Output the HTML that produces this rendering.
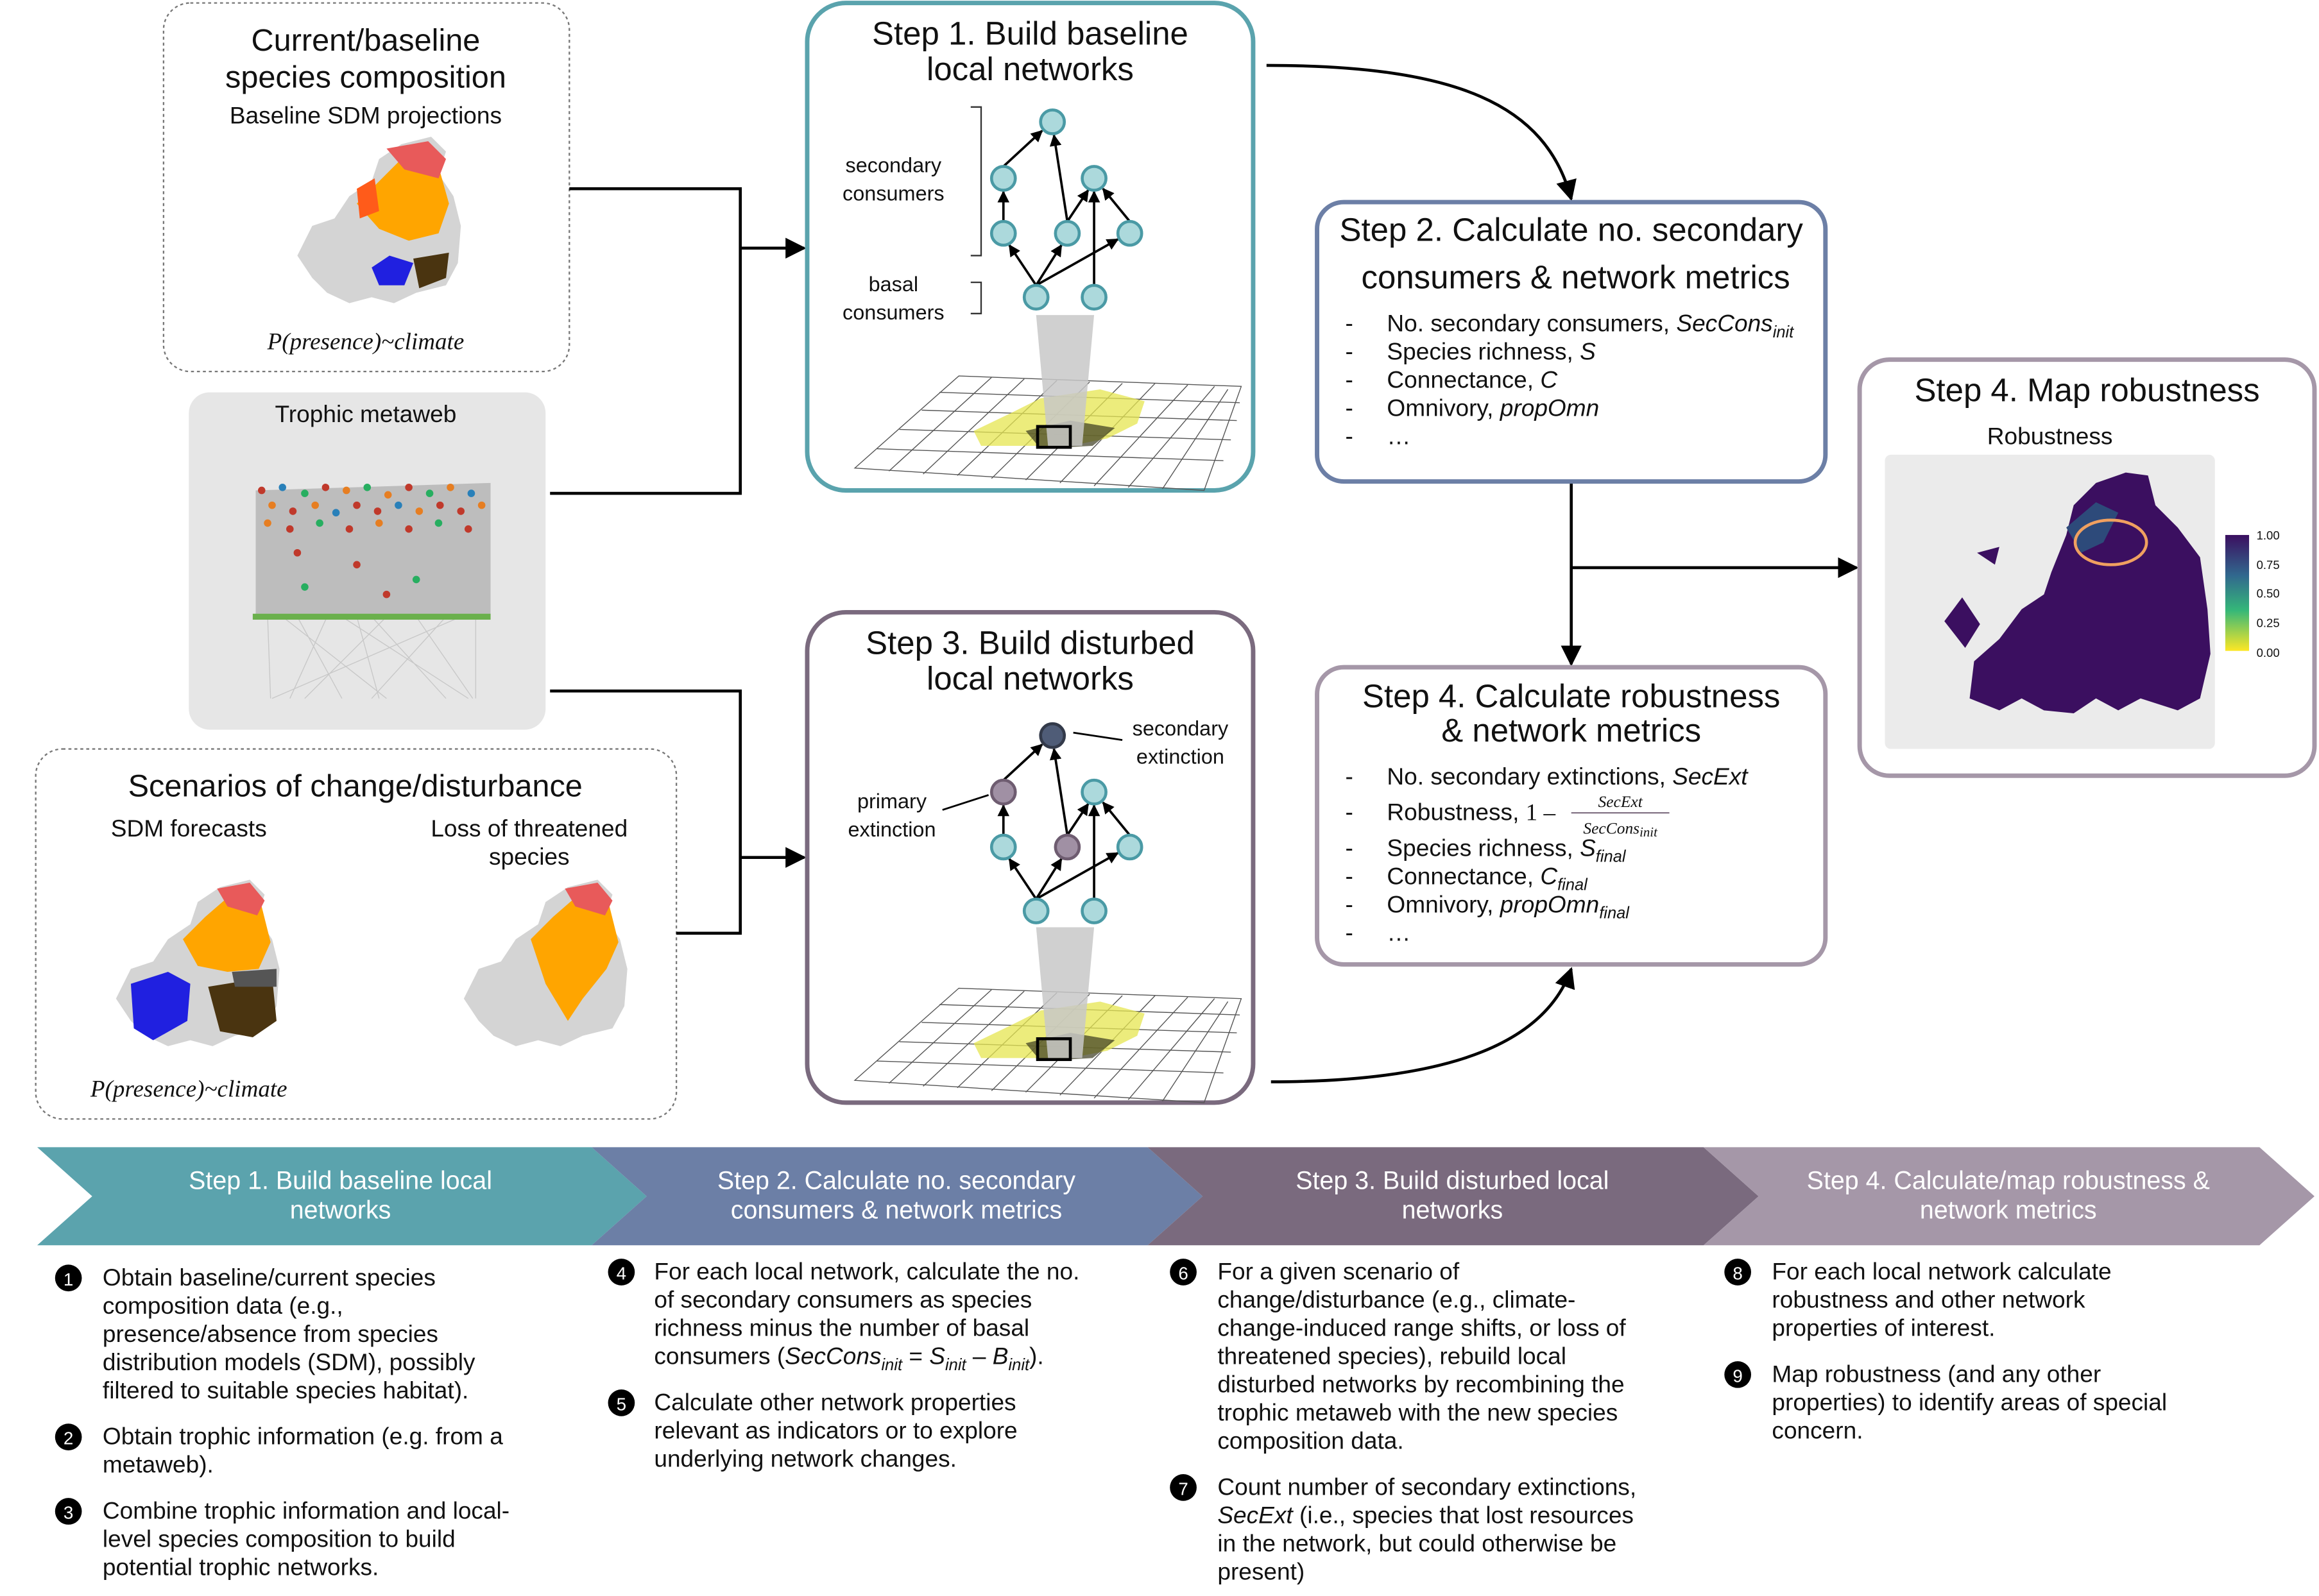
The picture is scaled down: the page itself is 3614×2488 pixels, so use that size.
<!DOCTYPE html>
<html><head><meta charset="utf-8"><style>
html,body{margin:0;padding:0;background:#fff}
svg{display:block}
text{font-family:"Liberation Sans",sans-serif;fill:#111}
text.w,.w text{fill:#fff}
.it{font-style:italic}
.ser{font-family:"Liberation Serif",serif;font-style:italic}
</style></head><body>
<svg width="3614" height="2488" viewBox="0 0 1560 1074" xmlns="http://www.w3.org/2000/svg">
<defs>
<marker id="ah" viewBox="0 0 10 10" refX="9" refY="5" markerWidth="7" markerHeight="7" orient="auto-start-reverse"><path d="M0,0L10,5L0,10z" fill="#000"/></marker>
<marker id="as" viewBox="0 0 10 10" refX="9" refY="5" markerWidth="5" markerHeight="5" orient="auto"><path d="M0,0L10,5L0,10z" fill="#000"/></marker>
<linearGradient id="lg" x1="0" y1="0" x2="0" y2="1"><stop offset="0" stop-color="#3b0f60"/><stop offset="0.35" stop-color="#31688e"/><stop offset="0.65" stop-color="#35b779"/><stop offset="1" stop-color="#fde725"/></linearGradient>
<g id="grid" stroke="#555" stroke-width="0.6" fill="none">
<path d="M575,315 L645,253 L835,260 L810,330 Z"/>
<path d="M590,302 L823,310 M605,289 L828,296 M620,276 L832,283 M632,264 L834,271"/>
<path d="M598,317 L667,254 M621,319 L689,255 M644,320 L711,256 M667,322 L733,257 M690,323 L755,258 M713,325 L777,258 M736,327 L799,259 M759,328 L817,260 M782,329 L826,262"/>
</g>
<g id="eu">
<path d="M0,80 L10,60 L25,55 L35,40 L50,30 L55,15 L70,5 L90,0 L100,10 L95,25 L105,40 L110,60 L108,85 L100,100 L80,105 L65,112 L50,108 L35,112 L20,105 L10,95 Z" fill="#d4d4d4"/>
</g>
</defs>

<!-- Box: Current baseline -->
<rect x="110" y="2" width="273" height="248" rx="18" fill="#fff" stroke="#777" stroke-width="1" stroke-dasharray="2,2"/>
<text x="246" y="34" font-size="21" text-anchor="middle">Current/baseline</text>
<text x="246" y="59" font-size="21" text-anchor="middle">species composition</text>
<text x="246" y="83" font-size="16" text-anchor="middle">Baseline SDM projections</text>
<g transform="translate(200,92)">
<use href="#eu"/>
<path d="M40,45 L55,30 L70,15 L95,20 L102,45 L95,65 L75,70 L55,62 Z" fill="#ffa500"/>
<path d="M60,8 L88,3 L100,15 L95,28 L72,22 Z" fill="#e85a5a"/>
<path d="M40,35 L52,28 L55,50 L42,55 Z" fill="#ff5b1a"/>
<path d="M50,88 L62,80 L78,85 L72,100 L55,100 Z" fill="#2020e0"/>
<path d="M78,82 L102,78 L100,95 L82,102 Z" fill="#4a3410"/>
</g>
<text x="246" y="235" font-size="16" text-anchor="middle" class="ser">P(presence)~climate</text>

<!-- Trophic metaweb -->
<rect x="127" y="264" width="240" height="227" rx="14" fill="#e6e6e6"/>
<text x="246" y="284" font-size="16" text-anchor="middle">Trophic metaweb</text>
<path d="M172,330 L330,325 L330,415 L172,415 Z" fill="#bdbdbd"/>
<g stroke="#c8c8c8" stroke-width="0.6">
<path d="M180,415 L182,470 M200,415 L230,470 M220,415 L195,470 M240,415 L255,470 M260,415 L205,470 M280,415 L318,470 M300,415 L250,470 M320,415 L320,470 M190,415 L260,470 M310,415 L183,470 M250,415 L300,470 M230,415 L315,470"/>
</g>
<g fill="#c0392b">
<circle cx="176" cy="330" r="2.5"/><circle cx="183" cy="340" r="2.5" fill="#e67e22"/><circle cx="190" cy="328" r="2.5" fill="#2980b9"/><circle cx="197" cy="344" r="2.5"/><circle cx="205" cy="332" r="2.5" fill="#27ae60"/><circle cx="212" cy="340" r="2.5" fill="#e67e22"/><circle cx="219" cy="328" r="2.5"/><circle cx="226" cy="345" r="2.5" fill="#2980b9"/><circle cx="233" cy="330" r="2.5" fill="#e67e22"/><circle cx="240" cy="340" r="2.5"/><circle cx="247" cy="328" r="2.5" fill="#27ae60"/><circle cx="254" cy="344" r="2.5"/><circle cx="261" cy="333" r="2.5" fill="#e67e22"/><circle cx="268" cy="340" r="2.5" fill="#2980b9"/><circle cx="275" cy="328" r="2.5"/><circle cx="282" cy="344" r="2.5" fill="#e67e22"/><circle cx="289" cy="332" r="2.5" fill="#27ae60"/><circle cx="296" cy="340" r="2.5"/><circle cx="303" cy="328" r="2.5" fill="#e67e22"/><circle cx="310" cy="344" r="2.5"/><circle cx="317" cy="332" r="2.5" fill="#2980b9"/><circle cx="324" cy="340" r="2.5" fill="#e67e22"/>
<circle cx="180" cy="352" r="2.5" fill="#e67e22"/><circle cx="195" cy="356" r="2.5"/><circle cx="215" cy="352" r="2.5" fill="#27ae60"/><circle cx="235" cy="356" r="2.5"/><circle cx="255" cy="352" r="2.5" fill="#e67e22"/><circle cx="275" cy="356" r="2.5"/><circle cx="295" cy="352" r="2.5" fill="#27ae60"/><circle cx="315" cy="356" r="2.5"/>
<circle cx="200" cy="372" r="2.5"/><circle cx="240" cy="380" r="2.5"/><circle cx="280" cy="390" r="2.5" fill="#27ae60"/><circle cx="205" cy="395" r="2.5" fill="#27ae60"/><circle cx="260" cy="400" r="2.5"/>
</g>
<rect x="170" y="413" width="160" height="4" fill="#6ab04c"/>

<!-- Scenarios box -->
<rect x="24" y="504" width="431" height="249" rx="18" fill="#fff" stroke="#777" stroke-width="1" stroke-dasharray="2,2"/>
<text x="239" y="536" font-size="21" text-anchor="middle">Scenarios of change/disturbance</text>
<text x="127" y="563" font-size="16" text-anchor="middle">SDM forecasts</text>
<text x="356" y="563" font-size="16" text-anchor="middle">Loss of threatened</text>
<text x="356" y="582" font-size="16" text-anchor="middle">species</text>
<g transform="translate(78,592)">
<use href="#eu"/>
<path d="M45,40 L60,25 L75,12 L98,18 L104,42 L96,60 L75,62 L55,58 Z" fill="#ffa500"/>
<path d="M68,6 L90,2 L100,14 L95,24 L75,18 Z" fill="#e85a5a"/>
<path d="M10,70 L35,62 L50,70 L48,95 L25,108 L12,100 Z" fill="#2020e0"/>
<path d="M62,72 L105,65 L108,95 L92,106 L70,102 Z" fill="#4a3410"/>
<path d="M78,62 L108,60 L108,72 L80,72 Z" fill="#555"/>
</g>
<g transform="translate(312,592)">
<use href="#eu"/>
<path d="M45,40 L60,25 L75,12 L98,18 L104,42 L96,60 L80,80 L70,95 L55,70 Z" fill="#ffa500"/>
<path d="M68,6 L90,2 L100,14 L95,24 L75,18 Z" fill="#e85a5a"/>
</g>
<text x="127" y="738" font-size="16" text-anchor="middle" class="ser">P(presence)~climate</text>

<!-- connectors left -->
<g stroke="#000" stroke-width="2" fill="none">
<path d="M383,127 L498,127 L498,332 L370,332"/>
<path d="M498,167 L541,167" marker-end="url(#ah)"/>
<path d="M370,465 L498,465 L498,628 L455,628"/>
<path d="M498,577 L541,577" marker-end="url(#ah)"/>
<path d="M852,44 C980,44 1040,70 1057,134" marker-end="url(#ah)"/>
<path d="M1057,324 L1057,447" marker-end="url(#ah)"/>
<path d="M1057,382 L1249,382" marker-end="url(#ah)"/>
<path d="M855,728 C980,728 1040,700 1057,652" marker-end="url(#ah)"/>
</g>

<!-- Step1 box -->
<rect x="543" y="2" width="300" height="328" rx="26" fill="#fff" stroke="#5aa3ad" stroke-width="3"/>
<text x="693" y="30" font-size="22" text-anchor="middle">Step 1. Build baseline</text>
<text x="693" y="54" font-size="22" text-anchor="middle">local networks</text>
<use href="#grid"/>
<path d="M655,290 L680,278 L700,268 L740,262 L770,270 L765,285 L745,295 L720,300 L690,300 L660,300 Z" fill="#e6e650" opacity="0.75"/>
<path d="M690,290 L720,283 L750,288 L735,300 L700,302 Z" fill="#3a3a20" opacity="0.7"/>
<path d="M697,212 L736,212 L728,300 L705,300 Z" fill="#c8c8c8" opacity="0.85"/>
<rect x="698" y="287" width="22" height="14" fill="none" stroke="#000" stroke-width="2"/>
<text x="601" y="116" font-size="14" text-anchor="middle">secondary</text>
<text x="601" y="135" font-size="14" text-anchor="middle">consumers</text>
<text x="601" y="196" font-size="14" text-anchor="middle">basal</text>
<text x="601" y="215" font-size="14" text-anchor="middle">consumers</text>
<path d="M653,72 L660,72 L660,172 L653,172 M653,190 L660,190 L660,211 L653,211" stroke="#333" fill="none"/>
<g stroke="#000" stroke-width="1.6" fill="none" marker-end="url(#as)">
<path d="M675,112 L701,88"/><path d="M675,149 L675,129"/><path d="M718,149 L709,91"/>
<path d="M697,192 L679,165"/><path d="M697,192 L714,165"/><path d="M697,192 L752,161"/>
<path d="M718,149 L732,128"/><path d="M736,192 L736,129"/><path d="M760,149 L742,127"/>
</g>
<g fill="#acd9dc" stroke="#4a9aa5" stroke-width="2">
<circle cx="708" cy="82" r="8"/><circle cx="675" cy="120" r="8"/><circle cx="736" cy="120" r="8"/><circle cx="675" cy="157" r="8"/><circle cx="718" cy="157" r="8"/><circle cx="760" cy="157" r="8"/><circle cx="697" cy="200" r="8"/><circle cx="736" cy="200" r="8"/>
</g>

<!-- Step3 box -->
<rect x="543" y="412" width="300" height="330" rx="26" fill="#fff" stroke="#7a6a7e" stroke-width="3"/>
<text x="693" y="440" font-size="22" text-anchor="middle">Step 3. Build disturbed</text>
<text x="693" y="464" font-size="22" text-anchor="middle">local networks</text>
<g transform="translate(0,412)"><use href="#grid"/>
<path d="M655,290 L680,278 L700,268 L740,262 L770,270 L765,285 L745,295 L720,300 L690,300 L660,300 Z" fill="#e6e650" opacity="0.75"/>
<path d="M690,290 L720,283 L750,288 L735,300 L700,302 Z" fill="#3a3a20" opacity="0.7"/>
<path d="M697,212 L736,212 L728,300 L705,300 Z" fill="#c8c8c8" opacity="0.85"/>
<rect x="698" y="287" width="22" height="14" fill="none" stroke="#000" stroke-width="2"/></g>
<text x="794" y="495" font-size="14" text-anchor="middle">secondary</text>
<text x="794" y="514" font-size="14" text-anchor="middle">extinction</text>
<text x="600" y="544" font-size="14" text-anchor="middle">primary</text>
<text x="600" y="563" font-size="14" text-anchor="middle">extinction</text>
<path d="M722,493 L755,498 M634,545 L665,535" stroke="#000" stroke-width="1.2"/>
<g transform="translate(0,413)">
<g stroke="#000" stroke-width="1.6" fill="none" marker-end="url(#as)">
<path d="M675,112 L701,88"/><path d="M675,149 L675,129"/><path d="M718,149 L709,91"/>
<path d="M697,192 L679,165"/><path d="M697,192 L714,165"/><path d="M697,192 L752,161"/>
<path d="M718,149 L732,128"/><path d="M736,192 L736,129"/><path d="M760,149 L742,127"/>
</g>
<g fill="#acd9dc" stroke="#4a9aa5" stroke-width="2">
<circle cx="736" cy="120" r="8"/><circle cx="675" cy="157" r="8"/><circle cx="760" cy="157" r="8"/><circle cx="697" cy="200" r="8"/><circle cx="736" cy="200" r="8"/>
</g>
<circle cx="708" cy="82" r="8" fill="#4f5c77" stroke="#333a4a" stroke-width="2"/>
<circle cx="675" cy="120" r="8" fill="#a090a4" stroke="#6e5c70" stroke-width="2"/>
<circle cx="718" cy="157" r="8" fill="#a090a4" stroke="#6e5c70" stroke-width="2"/>
</g>

<!-- Step2 box -->
<rect x="886" y="136" width="342" height="188" rx="18" fill="#fff" stroke="#6c7fa6" stroke-width="3"/>
<text x="1057" y="162" font-size="22" text-anchor="middle">Step 2. Calculate no. secondary</text>
<text x="1060" y="194" font-size="22" text-anchor="middle">consumers &amp; network metrics</text>
<g font-size="16">
<text x="905" y="223">-</text><text x="933" y="223">No. secondary consumers, <tspan class="it">SecCons</tspan><tspan class="it" font-size="11" dy="4">init</tspan></text>
<text x="905" y="242">-</text><text x="933" y="242">Species richness, <tspan class="it">S</tspan></text>
<text x="905" y="261">-</text><text x="933" y="261">Connectance, <tspan class="it">C</tspan></text>
<text x="905" y="280">-</text><text x="933" y="280">Omnivory, <tspan class="it">propOmn</tspan></text>
<text x="905" y="299">-</text><text x="933" y="299">…</text>
</g>

<!-- Step4 calc box -->
<rect x="886" y="449" width="342" height="200" rx="18" fill="#fff" stroke="#a597a8" stroke-width="3"/>
<text x="1057" y="476" font-size="22" text-anchor="middle">Step 4. Calculate robustness</text>
<text x="1057" y="499" font-size="22" text-anchor="middle">&amp; network metrics</text>
<g font-size="16">
<text x="905" y="528">-</text><text x="933" y="528">No. secondary extinctions, <tspan class="it">SecExt</tspan></text>
<text x="905" y="552">-</text><text x="933" y="552">Robustness, <tspan font-family="Liberation Serif">1 –</tspan></text>
<text x="1090" y="543" font-size="11" text-anchor="middle" class="ser">SecExt</text>
<line x1="1057" y1="547" x2="1123" y2="547" stroke="#6e5c70" stroke-width="0.8"/>
<text x="1090" y="561" font-size="11" text-anchor="middle" class="ser">SecCons<tspan font-size="9" dy="2">init</tspan></text>
<text x="905" y="576">-</text><text x="933" y="576">Species richness, <tspan class="it">S</tspan><tspan class="it" font-size="11" dy="4">final</tspan></text>
<text x="905" y="595">-</text><text x="933" y="595">Connectance, <tspan class="it">C</tspan><tspan class="it" font-size="11" dy="4">final</tspan></text>
<text x="905" y="614">-</text><text x="933" y="614">Omnivory, <tspan class="it">propOmn</tspan><tspan class="it" font-size="11" dy="4">final</tspan></text>
<text x="905" y="633">-</text><text x="933" y="633">…</text>
</g>

<!-- Step4 map box -->
<rect x="1251" y="242" width="306" height="280" rx="20" fill="#fff" stroke="#a597a8" stroke-width="3"/>
<text x="1404" y="270" font-size="22" text-anchor="middle">Step 4. Map robustness</text>
<text x="1379" y="299" font-size="16" text-anchor="middle">Robustness</text>
<rect x="1268" y="306" width="222" height="198" rx="4" fill="#ebebeb"/>
<path d="M1325,470 L1328,445 L1345,430 L1360,410 L1375,400 L1380,385 L1390,360 L1395,340 L1410,325 L1430,318 L1445,320 L1450,340 L1465,355 L1480,375 L1485,410 L1487,440 L1480,470 L1465,478 L1440,470 L1425,478 L1410,470 L1395,480 L1375,478 L1360,470 L1345,478 Z" fill="#3b0f60"/>
<path d="M1390,355 L1410,338 L1425,345 L1415,365 L1400,372 Z" fill="#2d4a7a"/>
<path d="M1308,418 L1320,402 L1332,420 L1322,436 Z" fill="#3b0f60"/>
<path d="M1330,372 L1345,368 L1342,380 Z" fill="#3b0f60"/>
<ellipse cx="1420" cy="365" rx="24" ry="15" fill="none" stroke="#f0a060" stroke-width="2"/>
<rect x="1497" y="360" width="16" height="78" fill="url(#lg)"/>
<g font-size="8"><text x="1518" y="363">1.00</text><text x="1518" y="383">0.75</text><text x="1518" y="402">0.50</text><text x="1518" y="422">0.25</text><text x="1518" y="442">0.00</text></g>

<!-- Chevrons -->
<path d="M25,772 L398,772 L435,805 L398,838 L25,838 L62,805 Z" fill="#5ba3ad"/>
<path d="M398,772 L772,772 L809,805 L772,838 L398,838 L435,805 Z" fill="#6c7fa6"/>
<path d="M772,772 L1146,772 L1183,805 L1146,838 L772,838 L809,805 Z" fill="#7a6a7e"/>
<path d="M1146,772 L1520,772 L1557,805 L1520,838 L1146,838 L1183,805 Z" fill="#a597a8"/>
<g font-size="17" text-anchor="middle" class="w">
<text x="229" y="800">Step 1. Build baseline local</text><text x="229" y="820">networks</text>
<text x="603" y="800">Step 2. Calculate no. secondary</text><text x="603" y="820">consumers &amp; network metrics</text>
<text x="977" y="800">Step 3. Build disturbed local</text><text x="977" y="820">networks</text>
<text x="1351" y="800">Step 4. Calculate/map robustness &amp;</text><text x="1351" y="820">network metrics</text>
</g>

<!-- bottom text -->
<g font-size="16">
<g><circle cx="46" cy="860" r="9" fill="#000"/><text class="w" x="46" y="865" font-size="12" text-anchor="middle">1</text></g>
<text x="69" y="865">Obtain baseline/current species</text>
<text x="69" y="884">composition data (e.g.,</text>
<text x="69" y="903">presence/absence from species</text>
<text x="69" y="922">distribution models (SDM), possibly</text>
<text x="69" y="941">filtered to suitable species habitat).</text>
<g><circle cx="46" cy="967" r="9" fill="#000"/><text class="w" x="46" y="972" font-size="12" text-anchor="middle">2</text></g>
<text x="69" y="972">Obtain trophic information (e.g. from a</text>
<text x="69" y="991">metaweb).</text>
<g><circle cx="46" cy="1017" r="9" fill="#000"/><text class="w" x="46" y="1022" font-size="12" text-anchor="middle">3</text></g>
<text x="69" y="1022">Combine trophic information and local-</text>
<text x="69" y="1041">level species composition to build</text>
<text x="69" y="1060">potential trophic networks.</text>

<g><circle cx="418" cy="856" r="9" fill="#000"/><text class="w" x="418" y="861" font-size="12" text-anchor="middle">4</text></g>
<text x="440" y="861">For each local network, calculate the no.</text>
<text x="440" y="880">of secondary consumers as species</text>
<text x="440" y="899">richness minus the number of basal</text>
<text x="440" y="918">consumers (<tspan class="it">SecCons</tspan><tspan class="it" font-size="11" dy="4">init</tspan><tspan dy="-4"> = </tspan><tspan class="it">S</tspan><tspan class="it" font-size="11" dy="4">init</tspan><tspan dy="-4"> – </tspan><tspan class="it">B</tspan><tspan class="it" font-size="11" dy="4">init</tspan><tspan dy="-4">).</tspan></text>
<g><circle cx="418" cy="944" r="9" fill="#000"/><text class="w" x="418" y="949" font-size="12" text-anchor="middle">5</text></g>
<text x="440" y="949">Calculate other network properties</text>
<text x="440" y="968">relevant as indicators or to explore</text>
<text x="440" y="987">underlying network changes.</text>

<g><circle cx="796" cy="856" r="9" fill="#000"/><text class="w" x="796" y="861" font-size="12" text-anchor="middle">6</text></g>
<text x="819" y="861">For a given scenario of</text>
<text x="819" y="880">change/disturbance (e.g., climate-</text>
<text x="819" y="899">change-induced range shifts, or loss of</text>
<text x="819" y="918">threatened species), rebuild local</text>
<text x="819" y="937">disturbed networks by recombining the</text>
<text x="819" y="956">trophic metaweb with the new species</text>
<text x="819" y="975">composition data.</text>
<g><circle cx="796" cy="1001" r="9" fill="#000"/><text class="w" x="796" y="1006" font-size="12" text-anchor="middle">7</text></g>
<text x="819" y="1006">Count number of secondary extinctions,</text>
<text x="819" y="1025"><tspan class="it">SecExt</tspan> (i.e., species that lost resources</text>
<text x="819" y="1044">in the network, but could otherwise be</text>
<text x="819" y="1063">present)</text>

<g><circle cx="1169" cy="856" r="9" fill="#000"/><text class="w" x="1169" y="861" font-size="12" text-anchor="middle">8</text></g>
<text x="1192" y="861">For each local network calculate</text>
<text x="1192" y="880">robustness and other network</text>
<text x="1192" y="899">properties of interest.</text>
<g><circle cx="1169" cy="925" r="9" fill="#000"/><text class="w" x="1169" y="930" font-size="12" text-anchor="middle">9</text></g>
<text x="1192" y="930">Map robustness (and any other</text>
<text x="1192" y="949">properties) to identify areas of special</text>
<text x="1192" y="968">concern.</text>
</g>
</svg>
</body></html>
